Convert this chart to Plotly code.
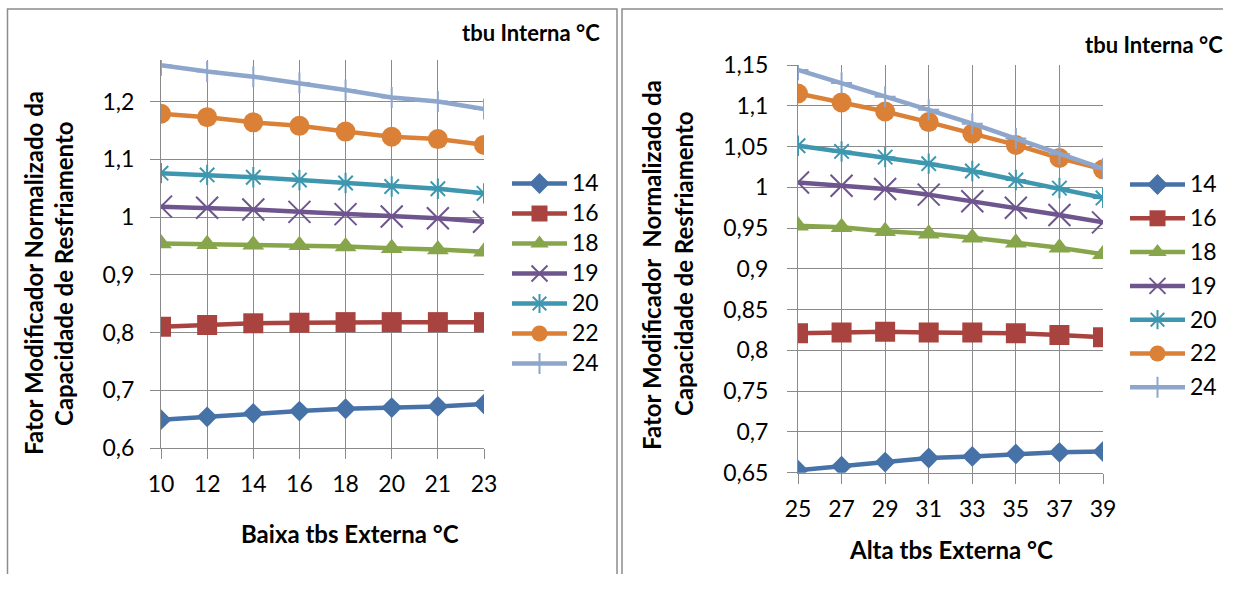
import plotly.graph_objects as go

# ---------------- data ----------------
low_tbs = ["10", "12", "14", "16", "18", "20", "21", "23"]
high_tbs = ["25", "27", "29", "31", "33", "35", "37", "39"]
series_names = ["14", "16", "18", "19", "20", "22", "24"]

low_14 = [0.649, 0.654, 0.660, 0.664, 0.668, 0.670, 0.672, 0.676]
low_16 = [0.810, 0.813, 0.816, 0.817, 0.818, 0.818, 0.818, 0.818]
low_18 = [0.954, 0.953, 0.952, 0.951, 0.949, 0.946, 0.944, 0.940]
low_19 = [1.018, 1.016, 1.013, 1.009, 1.005, 1.001, 0.998, 0.992]
low_20 = [1.076, 1.073, 1.069, 1.064, 1.059, 1.053, 1.049, 1.041]
low_22 = [1.179, 1.173, 1.164, 1.158, 1.148, 1.139, 1.135, 1.125]
low_24 = [1.263, 1.252, 1.243, 1.232, 1.220, 1.207, 1.200, 1.187]

high_14 = [0.653, 0.658, 0.663, 0.668, 0.670, 0.673, 0.675, 0.676]
high_16 = [0.821, 0.822, 0.823, 0.822, 0.822, 0.821, 0.819, 0.816]
high_18 = [0.953, 0.951, 0.946, 0.943, 0.938, 0.932, 0.926, 0.918]
high_19 = [1.006, 1.002, 0.998, 0.991, 0.983, 0.975, 0.966, 0.957]
high_20 = [1.051, 1.044, 1.037, 1.029, 1.020, 1.009, 0.999, 0.987]
high_22 = [1.115, 1.104, 1.093, 1.080, 1.066, 1.052, 1.036, 1.022]
high_24 = [1.144, 1.128, 1.111, 1.095, 1.078, 1.060, 1.041, 1.023]

left_ytick_vals = [0.6, 0.7, 0.8, 0.9, 1.0, 1.1, 1.2]
left_ytick_text = ["0,6", "0,7", "0,8", "0,9", "1", "1,1", "1,2"]
right_ytick_vals = [0.65, 0.70, 0.75, 0.80, 0.85, 0.90, 0.95, 1.00, 1.05, 1.10, 1.15]
right_ytick_text = ["0,65", "0,7", "0,75", "0,8", "0,85", "0,9", "0,95", "1", "1,05", "1,1", "1,15"]

low_series = [low_14, low_16, low_18, low_19, low_20, low_22, low_24]
high_series = [high_14, high_16, high_18, high_19, high_20, high_22, high_24]

# ---------------- styles ----------------
colors = ["#4672A8", "#A9433F", "#87A54B", "#6F558E", "#3E97AF", "#DA8137", "#8EA6CC"]
symbols = ["diamond", "square", "triangle-up", "x-thin-open", "asterisk-open", "circle", "cross-thin-open"]
sizes = [16, 20, 19, 22, 17, 20, 15]
mlw = [0, 0, 0, 2, 2, 0, 2]

FONT = "Lato, Carlito, Calibri, 'Open Sans', sans-serif"
# figure kept slightly smaller than the window so the page never overflows
W, H = 1223, 574
GRID = "#8a8a8a"


def px_x(v):
    # page pixel -> paper fraction
    return v / W


def px_y(v):
    return 1 - v / H


def legend_label(name):
    return "<span style='font-size:23px'>" + name + "</span>"


fig = go.Figure()

for i, name in enumerate(series_names):
    fig.add_trace(go.Scatter(
        x=low_tbs, y=low_series[i], name=legend_label(name), mode="lines+markers",
        xaxis="x", yaxis="y", legend="legend", legendgroup="L" + name,
        line=dict(color=colors[i], width=4.5),
        marker=dict(symbol=symbols[i], size=sizes[i], color=colors[i],
                    line=dict(color=colors[i], width=mlw[i])),
    ))
for i, name in enumerate(series_names):
    fig.add_trace(go.Scatter(
        x=high_tbs, y=high_series[i], name=legend_label(name), mode="lines+markers",
        xaxis="x2", yaxis="y2", legend="legend2", legendgroup="R" + name,
        line=dict(color=colors[i], width=4.5),
        marker=dict(symbol=symbols[i], size=sizes[i], color=colors[i],
                    line=dict(color=colors[i], width=mlw[i])),
    ))

axis_common = dict(
    showgrid=True, gridcolor=GRID, gridwidth=1,
    showline=True, linecolor=GRID, linewidth=1,
    ticks="outside", ticklen=10, tickcolor=GRID, tickwidth=1,
    tickfont=dict(family=FONT, size=23, color="black"),
    zeroline=False, fixedrange=True, automargin=False,
)

fig.update_layout(
    width=W, height=H,
    margin=dict(l=0, r=0, t=0, b=0, autoexpand=False),
    paper_bgcolor="white", plot_bgcolor="white",
    font=dict(family=FONT, color="black"),
    xaxis=dict(axis_common, type="category", range=[0, 7],
               domain=[px_x(161), px_x(484)], anchor="y",
               ticklabelstandoff=5),
    yaxis=dict(axis_common, range=[0.6, 1.272], domain=[px_y(448), px_y(60)],
               anchor="x", tickvals=left_ytick_vals, ticktext=left_ytick_text,
               ticklabelstandoff=11),
    xaxis2=dict(axis_common, type="category", range=[0, 7],
                domain=[px_x(798), px_x(1103)], anchor="y2",
                ticklabelstandoff=6),
    yaxis2=dict(axis_common, range=[0.65, 1.15], domain=[px_y(472.7), px_y(65)],
                anchor="x2", tickvals=right_ytick_vals, ticktext=right_ytick_text,
                ticklabelstandoff=14),
    legend=dict(x=px_x(507), y=px_y(164), xanchor="left", yanchor="top",
                font=dict(family=FONT, size=20, color="black"), itemwidth=55,
                bgcolor="rgba(0,0,0,0)", tracegroupgap=1, itemsizing="trace"),
    legend2=dict(x=px_x(1125), y=px_y(165), xanchor="left", yanchor="top",
                 font=dict(family=FONT, size=20, color="black"), itemwidth=55,
                 bgcolor="rgba(0,0,0,0)", tracegroupgap=4.8, itemsizing="trace"),
)

# frames
fig.add_shape(type="rect", xref="paper", yref="paper",
              x0=px_x(7.5), x1=px_x(617), y0=-0.1, y1=px_y(9),
              line=dict(color="#8c8c8c", width=1.5), fillcolor="rgba(0,0,0,0)")
fig.add_shape(type="rect", xref="paper", yref="paper",
              x0=px_x(622), x1=px_x(1260), y0=-0.1, y1=px_y(9),
              line=dict(color="#8c8c8c", width=1.5), fillcolor="rgba(0,0,0,0)")


def ann(text, x, y, size=21, angle=0):
    fig.add_annotation(text="<b>" + text + "</b>", x=px_x(x), y=px_y(y),
                       xref="paper", yref="paper", showarrow=False,
                       xanchor="center", yanchor="middle", textangle=angle,
                       font=dict(family=FONT, size=size, color="black"))


ann("tbu Interna °C", 531, 33, size=22)
ann("tbu Interna °C", 1154, 44, size=22)
ann("Baixa tbs Externa °C", 350, 533, size=24)
ann("Alta tbs Externa °C", 951, 549, size=24)
ann("Fator Modificador Normalizado da", 33, 273, size=24, angle=-90)
ann("Capacidade de Resfriamento", 63, 274, size=24, angle=-90)
ann("Fator Modificador  Normalizado da", 651, 265, size=24, angle=-90)
ann("Capacidade de Resfriamento", 683, 264, size=24, angle=-90)

fig.write_html("out.html")
